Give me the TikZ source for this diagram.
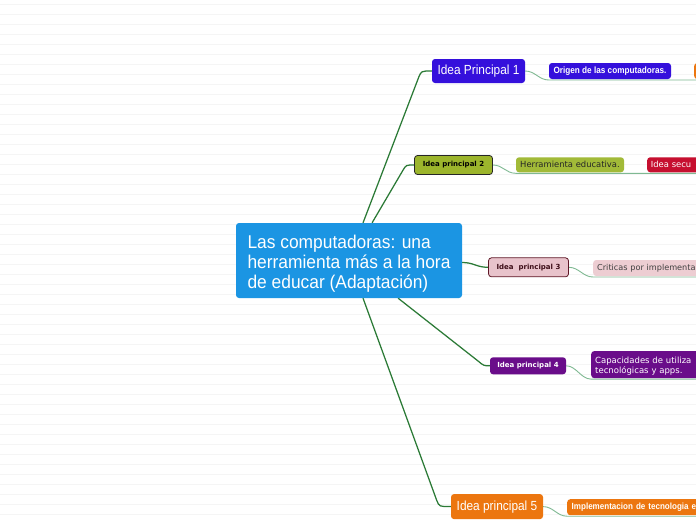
\documentclass[tikz,border=0pt]{standalone}
\usepackage{fontspec}
\newfontfamily\rob[FakeStretch=0.9]{Liberation Sans}
\newfontfamily\robc[FakeStretch=0.94]{Liberation Sans}
\newfontfamily\ver{DejaVu Sans}
\usetikzlibrary{calc,backgrounds}
\definecolor{cblue}{HTML}{1B95E3}
\definecolor{violetA}{HTML}{3510DC}
\definecolor{oliveA}{HTML}{9CB52C}
\definecolor{oliveB}{HTML}{A2BA38}
\definecolor{redA}{HTML}{C60F2F}
\definecolor{pinkA}{HTML}{E8C3CB}
\definecolor{pinkB}{HTML}{EDCDD2}
\definecolor{maroonA}{HTML}{5E1726}
\definecolor{maroonT}{HTML}{3D0E18}
\definecolor{purpleA}{HTML}{6A0D8A}
\definecolor{orangeA}{HTML}{EC760F}
\definecolor{mainc}{HTML}{2B7A36}
\definecolor{subc}{HTML}{7FB992}
\definecolor{gridc}{HTML}{F5F5F5}
\tikzset{
  box/.style={rectangle, rounded corners=3pt, inner sep=0pt, draw=none},
  mainline/.style={draw=mainc, line width=1.25pt},
  subline/.style={draw=subc, line width=0.9pt},
  fbig/.style={font=\rob\fontsize{13.2}{15}\selectfont},
  fsmallb/.style={font=\rob\bfseries\fontsize{9.1}{11}\selectfont},
  fverb/.style={font=\ver\bfseries\fontsize{7}{8}\selectfont},
  fver/.style={font=\ver\fontsize{8.4}{10}\selectfont},
}
\begin{document}
\begin{tikzpicture}[x=1pt,y=-1pt]
\useasboundingbox (0,0) rectangle (696,520);
\begin{scope}
\clip (0,0) rectangle (696,520);
% central
\node[box, fill=cblue, text=white, minimum width=226, minimum height=75, align=left,
      font=\robc\fontsize{18.5}{20.3}\selectfont] (c) at (349,260.5)
  {\rule{0pt}{20.2pt}Las computadoras: una\\herramienta más a la hora\\de educar (Adaptación)\rule[-4pt]{0pt}{4pt}};
% branch 1
\node[box, fill=violetA, text=white, minimum width=93, minimum height=24, fbig] (i1) at (478.5,71) {Idea Principal 1};
\node[box, fill=violetA, text=white, minimum width=122, minimum height=16, fsmallb] (o1) at (610,71) {Origen de las computadoras.};
\node[box, fill=orangeA, anchor=west, minimum width=12, minimum height=16] (o1x) at (694,71) {};
% branch 2
\node[box, fill=oliveA, draw=black!85, line width=0.8pt, text=black, minimum width=78, minimum height=19, fverb] (i2) at (453.5,165) {Idea principal 2};
\node[box, fill=oliveB, text=black!85, minimum width=108, minimum height=15, fver] (h2) at (570,164.8) {Herramienta educativa.};
\node[box, fill=redA, text=white, anchor=west, minimum height=15, text width=110, inner xsep=3.7, align=left, fver] (s2) at (647,164.8) {Idea secu};
% branch 3
\node[box, fill=pinkA, draw=maroonA, line width=0.8pt, text=maroonT, minimum width=80, minimum height=19, fverb] (i3) at (528.5,267.3) {Idea\ \ principal 3};
\node[box, fill=pinkB, text=black!75, anchor=west, minimum height=16, text width=110, inner xsep=4, align=left,
      font=\ver\fontsize{8.15}{10}\selectfont] (k3) at (593,268) {Criticas por implementa};
% branch 4
\node[box, fill=purpleA, text=white, minimum width=76, minimum height=17, fverb] (i4) at (528,365.8) {Idea principal 4};
\node[box, fill=purpleA, text=white, anchor=west, minimum height=27, text width=110, inner xsep=4, align=left,
      font=\ver\fontsize{8.5}{10}\selectfont] (p4) at (591,364.6) {\rule{0pt}{9.9pt}Capacidades de utiliza\\tecnológicas y apps.\rule[-2.5pt]{0pt}{2.5pt}};
% branch 5
\node[box, fill=orangeA, text=white, minimum width=92, minimum height=25, fbig] (i5) at (497,506.6) {Idea principal 5};
\node[box, fill=orangeA, text=white, anchor=west, minimum height=16, text width=130, inner xsep=4.5, align=left,
      font=\rob\bfseries\fontsize{8.95}{11}\selectfont] (m5) at (567,507.2) {Implementacion de tecnologia e};

\begin{pgfonlayer}{background}
\fill[white] (0,0) rectangle (696,520);
\foreach \k in {0,...,51} \draw[gridc, line width=0.8pt] (0,4.3+10*\k) -- (696,4.3+10*\k);
% main connectors
\coordinate (c1) at ($(c.north west)!0.562!(c.north east)$);
\coordinate (c2) at ($(c.north west)!0.602!(c.north east)$);
\coordinate (c5) at ($(c.south west)!0.562!(c.south east)$);
\coordinate (c4) at ($(c.south west)!0.717!(c.south east)$);
\draw[mainline] (c1) -- ($(i1.west)+(-13,6)$) .. controls ($(i1.west)+(-10.5,0)$) .. (i1.west);
\draw[mainline] (c2) -- ($(i2.west)+(-11,5)$) .. controls ($(i2.west)+(-8,0)$) .. (i2.west);
\draw[mainline] (c5) -- ($(i5.west)+(-14,-6)$) .. controls ($(i5.west)+(-11.5,0)$) .. (i5.west);
\draw[mainline] (c4) -- ($(i4.west)+(-12,-5)$) .. controls ($(i4.west)+(-6,0)$) .. (i4.west);
\draw[mainline] ($(c.east)+(0,2)$) .. controls +(12,0) and +(-12,0) .. (i3.west);
% secondary connectors
\draw[subline] (i1.east) .. controls +(10,0) and +(-10,0) .. ($(o1.south west)+(0,0.8)$) -- ($(o1x.south east)+(0,0.8)$);
\draw[subline] (i2.east) .. controls +(10,0) and +(-10,0) .. ($(h2.south west)+(0,0.8)$) -- ($(s2.south east)+(0,0.8)$);
\draw[subline] (i3.east) .. controls +(10,0) and +(-10,0) .. ($(k3.south west)+(0,0.8)$) -- ($(k3.south east)+(0,0.8)$);
\draw[subline] (i4.east) .. controls +(10,0) and +(-10,0) .. ($(p4.south west)+(0,0.8)$) -- ($(p4.south east)+(0,0.8)$);
\draw[subline] (i5.east) .. controls +(10,0) and +(-10,0) .. ($(m5.south west)+(0,0.8)$) -- ($(m5.south east)+(0,0.8)$);
\end{pgfonlayer}
\end{scope}
\end{tikzpicture}
\end{document}
